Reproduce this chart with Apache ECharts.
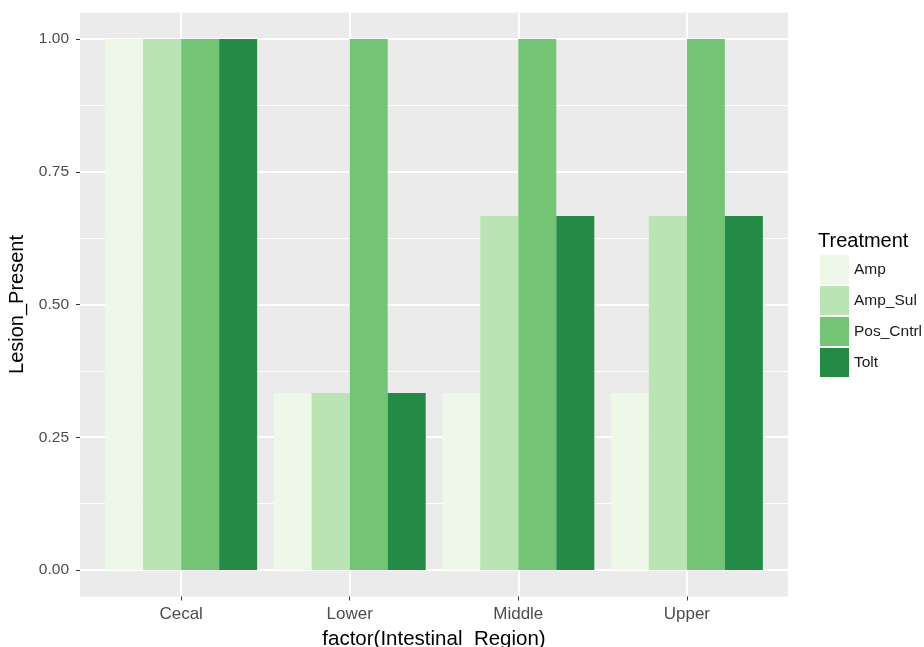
<!DOCTYPE html>
<html>
<head>
<meta charset="utf-8">
<script src="https://cdn.jsdelivr.net/npm/echarts@6/dist/echarts.min.js"></script>
<style>
html,body{margin:0;padding:0;background:#fff;}
#c{width:924px;height:647px;}
</style>
</head>
<body>
<div id="c"></div>
<script>
const categories = ["Cecal", "Lower", "Middle", "Upper"];
const treatments = ["Amp", "Amp_Sul", "Pos_Cntrl", "Tolt"];
const amp = [1.0, 0.3333, 0.3333, 0.3333];
const ampSul = [1.0, 0.3333, 0.6667, 0.6667];
const posCntrl = [1.0, 1.0, 1.0, 1.0];
const tolt = [1.0, 0.3333, 0.6667, 0.6667];
const yTicks = [0, 0.25, 0.5, 0.75, 1.0];
const yMinorTicks = [0.125, 0.375, 0.625, 0.875];
const colors = ["#EDF8E9", "#BAE4B3", "#74C476", "#238B45"];

const seriesValues = [amp, ampSul, posCntrl, tolt];
const xPositions = categories.map((c, i) => i + 1);

const chart = echarts.init(document.getElementById('c'), null, {renderer: 'canvas'});
const font = 'Liberation Sans, Arial, sans-serif';

chart.setOption({
  animation: false,
  backgroundColor: '#ffffff',
  textStyle: {fontFamily: font},
  title: {
    text: 'Treatment',
    left: 813, top: 226,
    textStyle: {fontSize: 20, fontWeight: 'normal', color: '#000', fontFamily: font}
  },
  legend: {
    orient: 'vertical',
    left: 815, top: 250,
    itemWidth: 29, itemHeight: 29, itemGap: 2,
    icon: 'rect',
    data: treatments,
    textStyle: {fontSize: 15.5, color: '#1a1a1a', fontFamily: font},
    selectedMode: false
  },
  grid: {
    left: 80, top: 12.5, width: 708, height: 584,
    show: true, backgroundColor: '#EBEBEB', borderWidth: 0,
    outerBoundsMode: 'none', containLabel: false
  },
  xAxis: {
    type: 'value', min: 0.4, max: 4.6,
    axisLine: {show: false, onZero: false},
    axisTick: {show: true, length: 4, customValues: xPositions, lineStyle: {color: '#333333', width: 1}},
    axisLabel: {customValues: xPositions, formatter: v => categories[Math.round(v) - 1], fontSize: 17, color: '#4D4D4D', margin: 9, fontFamily: font},
    splitLine: {show: true, lineStyle: {color: '#ffffff', width: 2}},
    name: 'factor(Intestinal_Region)', nameLocation: 'middle', nameGap: 32,
    nameTextStyle: {fontSize: 20.5, color: '#000', fontFamily: font}
  },
  yAxis: [{
    type: 'value', min: -0.05, max: 1.05,
    axisLine: {show: false, onZero: false},
    axisTick: {show: true, length: 4, customValues: yTicks, lineStyle: {color: '#333333', width: 1}},
    axisLabel: {customValues: yTicks, formatter: v => v.toFixed(2), fontSize: 15.5, color: '#4D4D4D', margin: 11, fontFamily: font},
    splitLine: {show: true, lineStyle: {color: '#ffffff', width: 2}},
    name: 'Lesion_Present', nameLocation: 'middle', nameGap: 47, nameRotate: 90,
    nameTextStyle: {fontSize: 20, color: '#000', fontFamily: font}
  }, {
    type: 'value', min: -0.05, max: 1.05, position: 'left',
    axisLine: {show: false, onZero: false},
    axisTick: {show: false, customValues: yMinorTicks},
    axisLabel: {show: false, customValues: yMinorTicks},
    splitLine: {show: true, lineStyle: {color: '#ffffff', width: 1}}
  }],
  series: treatments.map((t, k) => ({
    name: t,
    type: 'bar',
    xAxisIndex: 0, yAxisIndex: 0,
    barWidth: 38,
    barGap: '0%',
    itemStyle: {color: colors[k]},
    emphasis: {disabled: true},
    data: xPositions.map((x, i) => [x, seriesValues[k][i]])
  }))
});
</script>
</body>
</html>
